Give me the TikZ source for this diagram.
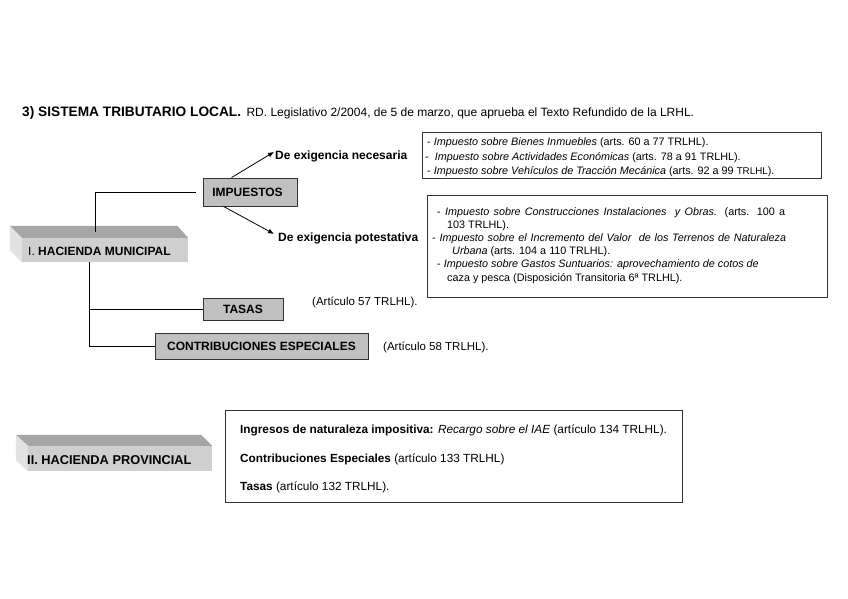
\documentclass[tikz,border=0pt]{standalone}
\usepackage{fontspec}
\setmainfont{Liberation Sans}
\usetikzlibrary{arrows.meta,calc}
\definecolor{boxgray}{HTML}{C0C0C0}
\definecolor{topgray}{HTML}{A6A6A6}
\definecolor{frontgray}{HTML}{CFCFCF}
\definecolor{sidegray}{HTML}{E2E2E2}
\definecolor{linegray}{HTML}{333333}
\begin{document}
\begin{tikzpicture}[x=1pt,y=-1pt,
  txt/.style={anchor=base west, inner sep=0pt, font=\fontsize{10.8}{12}\selectfont},
  mid/.style={anchor=base west, inner sep=0pt, font=\fontsize{11.5}{13}\selectfont},
  big/.style={anchor=base west, inner sep=0pt, font=\fontsize{12}{14}\selectfont},
  graybox/.style={draw=linegray, line width=0.9pt, fill=boxgray, inner sep=0pt, font=\fontsize{12}{14}\selectfont\bfseries},
  front/.style={fill=frontgray, inner sep=0pt, font=\fontsize{12}{14}\selectfont},
  frame/.style={draw=linegray, line width=0.9pt},
  conn/.style={draw=black, line width=0.8pt},
  arr/.style={draw=black, line width=0.8pt, -{Latex[length=6pt,width=5pt]}}]
\useasboundingbox (0,0) rectangle (848,599);
\fill[white] (0,0) rectangle (848,599);

% title
\node[anchor=base west, inner sep=0pt, font=\fontsize{13.7}{16}\selectfont\bfseries] (title) at (22,117) {3) SISTEMA TRIBUTARIO LOCAL.};
\node[big, anchor=base west] (titlerest) at ([xshift=5pt]title.base east) {RD. Legislativo 2/2004, de 5 de marzo, que aprueba el Texto Refundido de la LRHL.};

% Hacienda municipal (3D box)
\node[front, minimum width=166pt, minimum height=24pt] (hm) at (105,250) {};
\fill[topgray] (hm.north west) -- ++(-12,-12) -- ([shift={(-11,-12)}]hm.north east) -- (hm.north east) -- cycle;
\fill[sidegray] (hm.north west) -- ++(-12,-12) -- ([shift={(-12,-12)}]hm.south west) -- (hm.south west) -- cycle;
\node[big, anchor=base west] (hmtext) at (28,255) {I. \textbf{HACIENDA MUNICIPAL}};

% Impuestos, tasas, contribuciones
\node[graybox, minimum width=94pt, minimum height=28pt] (imp) at (250,192) {\hspace*{-5pt}IMPUESTOS};
\node[graybox, minimum width=80pt, minimum height=22pt] (tasas) at (243,309) {TASAS};
\node[graybox, minimum width=213pt, minimum height=26pt] (contrib) at (261.5,346) {CONTRIBUCIONES ESPECIALES};

\node[mid] (art57) at (312,305) {(Artículo 57 TRLHL).};
\node[mid] (art58) at (383,350) {(Artículo 58 TRLHL).};

\node[big, font=\fontsize{12}{14}\selectfont\bfseries] (nec) at (275,159) {De exigencia necesaria};
\node[big, font=\fontsize{12}{14}\selectfont\bfseries] (pot) at (278,241) {De exigencia potestativa};

% connectors
\coordinate (impl) at ([xshift=-7pt]imp.west);
\draw[conn] (impl) -| ($(hm.north)+(-10,-6)$);
\draw[conn] ([xshift=-16pt]hm.south) |- (tasas.west);
\draw[conn] ([xshift=-16pt]hm.south) |- (contrib.west);
\draw[arr] ([xshift=29pt]imp.north west) -- ([shift={(-1pt,4pt)}]nec.west);
\draw[arr] ([xshift=21pt]imp.south west) -- ([shift={(-4pt,4pt)}]pot.west);

% box necesaria
\draw[frame] (422,132) rectangle (821,178);
\node[txt] (n1) at (427,146) {- \textit{Impuesto sobre Bienes Inmuebles} (arts. 60 a 77 TRLHL).};
\node[txt] (n2) at (425,160) {-\ \ \textit{Impuesto sobre Actividades Económicas} (arts. 78 a 91 TRLHL).};
\node[txt] (n3) at (427,174) {- \textit{Impuesto sobre Vehículos de Tracción Mecánica} (arts. 92 a 99 {\fontsize{9.8}{11}\selectfont TRLHL}).};

% box potestativa
\draw[frame] (427,195) rectangle (827,297);
\node[txt] (p1) at (437,215) {\hbox to 348pt{- \textit{Impuesto sobre Construcciones Instalaciones\ \ y Obras.} (arts. 100 a}};
\node[txt] (p2) at (447,228) {103 TRLHL).};
\node[txt] (p3) at (432,241) {\hbox to 354pt{- \textit{Impuesto sobre el Incremento del Valor\ \ de los Terrenos de Naturaleza}}};
\node[txt] (p4) at (452,254) {\textit{Urbana} (arts. 104 a 110 TRLHL).};
\node[txt] (p5) at (437,267) {- \textit{Impuesto sobre Gastos Suntuarios: aprovechamiento de cotos de}};
\node[txt] (p6) at (447,281) {caza y pesca (Disposición Transitoria 6ª TRLHL).};

% Hacienda provincial (3D box)
\node[front, minimum width=184pt, minimum height=25pt] (hp) at (120,458.5) {};
\fill[topgray] (hp.north west) -- ++(-12,-11) -- ([shift={(-11,-11)}]hp.north east) -- (hp.north east) -- cycle;
\fill[sidegray] (hp.north west) -- ++(-12,-11) -- ([shift={(-12,-11)}]hp.south west) -- (hp.south west) -- cycle;
\node[big, font=\fontsize{12.8}{14}\selectfont\bfseries] (hptext) at (27,464) {II. HACIENDA PROVINCIAL};

% box provincial
\draw[frame] (225,410) rectangle (682,502);
\node[big, font=\fontsize{11.8}{14}\selectfont] (r1) at (240,433) {\textbf{Ingresos de naturaleza impositiva:} \textit{Recargo sobre el IAE} (artículo 134 TRLHL).};
\node[big, font=\fontsize{11.8}{14}\selectfont] (r2) at (240,462) {\textbf{Contribuciones Especiales} (artículo 133 TRLHL)};
\node[big, font=\fontsize{11.8}{14}\selectfont] (r3) at (240,490) {\textbf{Tasas} (artículo 132 TRLHL).};
\end{tikzpicture}
\end{document}
